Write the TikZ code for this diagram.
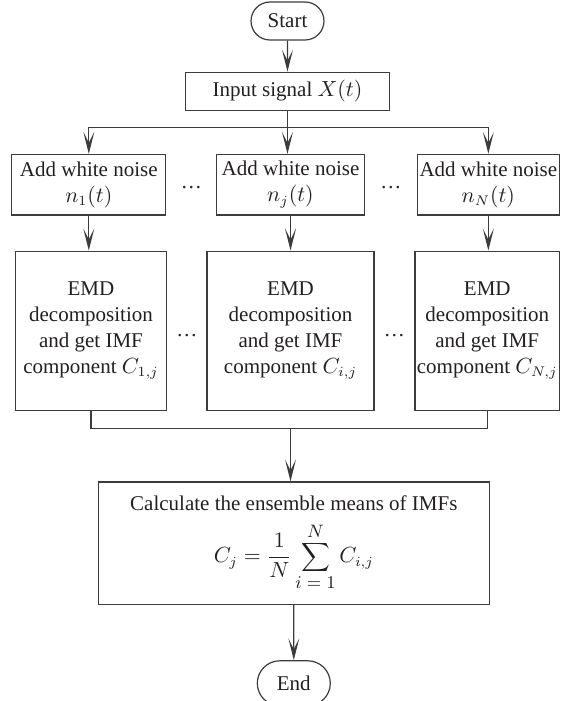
\documentclass[tikz,border=0pt]{standalone}
\usepackage{fontspec}
\setmainfont{Liberation Serif}
\usetikzlibrary{positioning,shapes.misc,arrows.meta}
\definecolor{linegray}{HTML}{3C3C3C}
\definecolor{inkgray}{HTML}{231F20}
\tikzset{
	block/.style={draw=linegray, line width=0.6pt, text=inkgray, align=center, inner sep=1pt, font=\fontsize{10.5}{13}\selectfont},
	terminal/.style={block, rounded rectangle, minimum width=38.5pt},
	noise/.style={block, minimum height=30.25pt},
	emd/.style={block, minimum height=79.5pt},
	dots/.style={text=inkgray, inner sep=0pt, font=\fontsize{10.5}{13}\selectfont},
	link/.style={draw=linegray, line width=0.6pt},
	flow/.style={link, -{Stealth[length=11pt,width=5.5pt,inset=5.5pt]}}
}

\begin{document}
\begin{tikzpicture}
	\useasboundingbox (0,0) rectangle (284.5pt,-350.5pt);
	\node [terminal, minimum height=19pt] (start) at (143.75pt,-10.5pt) {Start};
	\node [block, below=15.5pt of start, minimum width=102pt, minimum height=19pt] (input) {Input signal $X(t)$};
	\node [noise, below=21.5pt of input, xshift=1.5pt, minimum width=73.8pt] (nj) {Add white noise\\$n_j(t)$};
	\node [noise, left=24.85pt of nj, minimum width=77pt] (n1) {Add white noise\\$n_1(t)$};
	\node [noise, right=25.85pt of nj, minimum width=71.15pt] (nN) {Add white noise\\$n_N(t)$};
	\node [emd, below=17.5pt of nj, minimum width=83.5pt] (ej) {EMD\\decomposition\\and get IMF\\component $C_{i,j}$};
	\node [emd, left=19.5pt of ej, minimum width=75.8pt] (e1) {EMD\\decomposition\\and get IMF\\component $C_{1,j}$};
	\node [emd, right=19.85pt of ej, minimum width=71.85pt] (eN) {EMD\\decomposition\\and get IMF\\component $C_{N,j}$};
	\node [block, below=35.3pt of ej, xshift=1.65pt, minimum width=195.5pt, minimum height=61.35pt] (calc) {Calculate the ensemble means of IMFs\\[5pt]$\displaystyle C_j=\frac{1}{N}\sum_{\mbox{\small$i = 1$}}^{\mbox{\small$N$}}C_{i,j}$};
	\node [terminal, below=27.5pt of calc, minimum height=22.5pt] (stop) {End};

	\path (n1.east) -- (nj.west) node [dots, midway, yshift=-1.5pt] (dn1) {\dots};
	\path (nj.east) -- (nN.west) node [dots, midway, yshift=-1.5pt] (dn2) {\dots};
	\path (e1.east) -- (ej.west) node [dots, midway, yshift=-2.5pt] (de1) {\dots};
	\path (ej.east) -- (eN.west) node [dots, midway, yshift=-2.5pt] (de2) {\dots};

	\coordinate [below=8.35pt of input] (split);
	\coordinate [below=8.8pt of ej] (merge);

	\draw [flow] (start) -- (input);
	\draw [link] (input) -- (split);
	\draw [flow] (split) -- (split |- nj.north);
	\draw [flow] (split) -| (n1);
	\draw [flow] (split) -| (nN);
	\draw [flow] (n1.south) -- (n1.south |- e1.north);
	\draw [flow] (nj) -- (ej);
	\draw [flow] (nN.south) -- (nN.south |- eN.north);
	\draw [link] (e1) |- (merge) -| (eN);
	\draw [flow] (merge) -- (merge |- calc.north);
	\draw [flow] (calc) -- (stop);
\end{tikzpicture}
\end{document}
